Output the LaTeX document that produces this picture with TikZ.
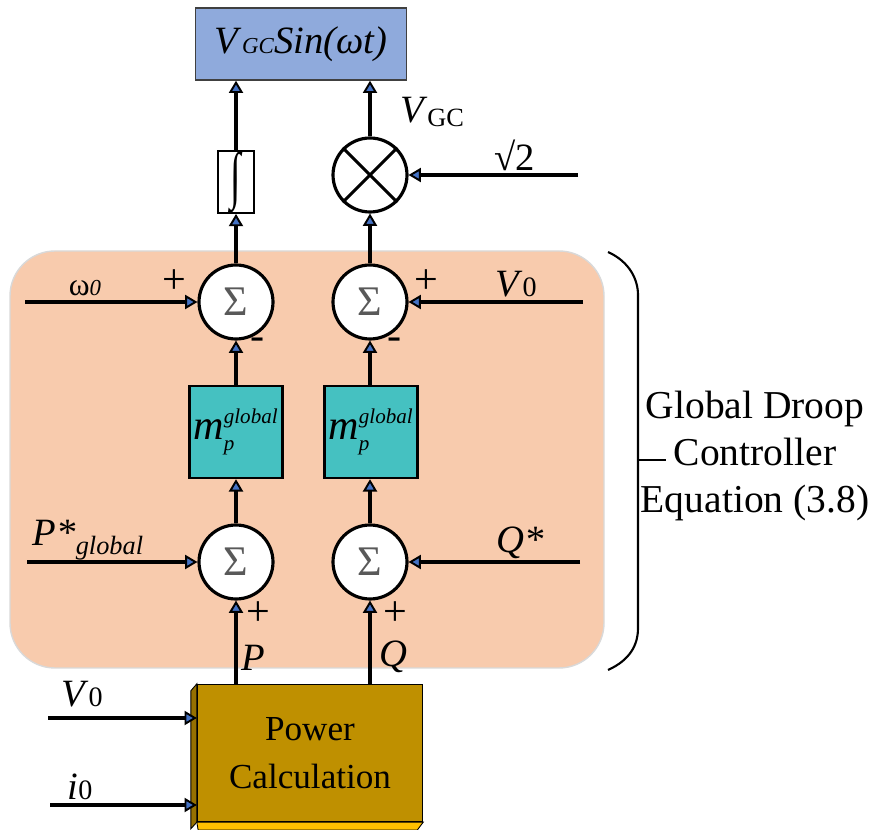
\documentclass[tikz,border=0pt]{standalone}
\usepackage{amsmath}
\usepackage{fontspec}
\setmainfont{Liberation Serif}
\usepackage{tikz}
\usetikzlibrary{arrows.meta,positioning}
\definecolor{regioncolor}{RGB}{248,203,173}
\definecolor{outcolor}{RGB}{143,170,220}
\definecolor{gaincolor}{RGB}{69,193,193}
\definecolor{powercolor}{RGB}{191,144,0}
\definecolor{powerside}{RGB}{150,112,0}
\definecolor{powerbottom}{RGB}{255,192,0}
\definecolor{tipcolor}{RGB}{68,114,196}
\newcommand{\bigsize}{\fontsize{22}{26}\selectfont}
\newcommand{\midsize}{\fontsize{24}{24}\selectfont}

\begin{document}
\begin{tikzpicture}[
        x=0.02cm, y=-0.02cm,
        sig/.style={-{Triangle[open, fill=tipcolor, length=7pt, width=8pt, line width=1.1pt]}, line width=1.8pt},
        sumnode/.style={circle, draw, line width=1.8pt, fill=white, minimum size=1.48cm, inner sep=0pt, text=black!65, font=\fontsize{24}{24}\selectfont},
        gainbox/.style={rectangle, draw, line width=1.4pt, fill=gaincolor, minimum width=1.86cm, minimum height=1.84cm, inner sep=0pt, font=\fontsize{24}{24}\selectfont},
        outbox/.style={rectangle, draw=black!75, line width=0.8pt, fill=outcolor, minimum width=4.22cm, minimum height=1.44cm, font=\bigsize},
        intbox/.style={rectangle, draw, line width=1pt, fill=white, minimum width=0.72cm, minimum height=1.2cm, inner sep=0pt, font=\fontsize{24}{24}\selectfont},
        powerbox/.style={rectangle, draw, line width=0.8pt, fill=powercolor, minimum width=4.5cm, minimum height=2.74cm, align=center, font=\fontsize{20}{27}\selectfont},
        lbl/.style={inner sep=0pt, font=\bigsize},
        sgn/.style={inner sep=0pt, font=\midsize}
    ]
        \useasboundingbox (0,0) rectangle (876,830);

        % droop controller region
        \fill[regioncolor, draw=black!15, line width=0.8pt, rounded corners=0.9cm] (10,251) rectangle (604,668);

        \node[outbox] (out) at (301,44) {\textit{V}{\fontsize{13}{13}\selectfont\textit{GC}}\textit{Sin(ωt)}};
        \node[intbox] (intg) at (236,182) {\scalebox{0.9}[1.5]{∫}};
        \node[sumnode] (mult) at (370,175) {};
        \draw[line width=1.8pt] (mult.45) -- (mult.225) (mult.135) -- (mult.315);

        \node[sumnode] (sumW) at (236,302) {Σ};
        \node[sumnode] (sumV) at (370,302) {Σ};
        \node[gainbox] (gainP) at (236,432) {$\textit{m}_{\scriptscriptstyle\textit{p}}^{\scriptscriptstyle\textit{global}}$};
        \node[gainbox] (gainQ) at (371,432) {$\textit{m}_{\scriptscriptstyle\textit{p}}^{\scriptscriptstyle\textit{global}}$};
        \node[sumnode] (sumP) at (236,562) {Σ};
        \node[sumnode] (sumQ) at (370,562) {Σ};

        \node[powerbox] (power) at (310,753) {Power\\Calculation};
        \fill[powerside, draw=black, line width=0.5pt] (power.north west) -- ++(-6,7) -- ++(0,138) -- (power.south west) -- cycle;
        \fill[powerbottom, draw=black, line width=0.5pt] (power.south west) -- (power.south east) -- ++(-6,8) -- ++(-219,0) -- cycle;

        % inputs
        \coordinate (wIn) at (25,302);
        \coordinate (vIn) at (583,302);
        \coordinate (sqIn) at (578,175);
        \coordinate (pIn) at (27,562);
        \coordinate (qIn) at (580,562);
        \coordinate (v0In) at (48,718);
        \coordinate (i0In) at (50,805);

        \draw[sig] (intg.north) -- (intg.north |- out.south);
        \draw[sig] (mult.north) -- (mult.north |- out.south);
        \draw[sig] (sumW) -- (intg);
        \draw[sig] (sumV) -- (mult);
        \draw[sig] (sqIn) -- (mult);
        \draw[sig] (wIn) -- (sumW);
        \draw[sig] (vIn) -- (sumV);
        \draw[sig] (gainP.north -| sumW) -- (sumW);
        \draw[sig] (gainQ.north -| sumV) -- (sumV);
        \draw[sig] (sumP) -- (gainP.south -| sumP);
        \draw[sig] (sumQ) -- (gainQ.south -| sumQ);
        \draw[sig] (pIn) -- (sumP);
        \draw[sig] (qIn) -- (sumQ);
        \draw[sig] (power.north -| sumP) -- (sumP);
        \draw[sig] (power.north -| sumQ) -- (sumQ);
        \draw[sig] (v0In) -- (v0In -| power.west);
        \draw[sig] (i0In) -- (i0In -| power.west);

        % labels
        \node[lbl] (vgcLbl) at (432,112) {\textit{V}\raisebox{-2pt}{\fontsize{15}{15}\selectfont GC}};
        \node[lbl] (sqLbl) at (515,155) {√2};
        \node[lbl, font=\fontsize{18}{20}\selectfont] (wLbl) at (85,288) {ω{\fontsize{13}{13}\selectfont\textit{0}}};
        \node[lbl] (vLbl) at (516,284) {\textit{V}{\fontsize{16}{16}\selectfont 0}};
        \node[lbl] (pStarLbl) at (88,540) {\textit{P*}\raisebox{-5pt}{\fontsize{15}{15}\selectfont\textit{global}}};
        \node[lbl] (qStarLbl) at (520,543) {\textit{Q*}};
        \node[lbl] (pLbl) at (253,658) {\textit{P}};
        \node[lbl] (qLbl) at (393,657) {\textit{Q}};
        \node[lbl] (v0Lbl) at (82,694) {\textit{V}{\fontsize{16}{16}\selectfont 0}};
        \node[lbl] (i0Lbl) at (80,787) {\textit{i}{\fontsize{16}{16}\selectfont 0}};

        \node[sgn] (sW1) at (174,282) {+};
        \node[sgn] (sW2) at (258,344) {-};
        \node[sgn] (sV1) at (426,282) {+};
        \node[sgn] (sV2) at (395,344) {-};
        \node[sgn] (sP1) at (258,614) {+};
        \node[sgn] (sQ1) at (395,614) {+};

        % brace and note
        \draw[line width=1.2pt] (608,252) .. controls (630,262) and (638,280) .. (638,295) -- (638,628) .. controls (638,645) and (630,660) .. (608,670);
        \coordinate (braceTip) at (638,460);
        \coordinate (noteTick) at (666,460);
        \node[align=center, inner sep=0pt, font=\fontsize{22.5}{26.7}\selectfont] (note) at (755,456) {Global Droop\\Controller\\Equation (3.8)};
        \draw[line width=1.2pt] (braceTip) -- (noteTick);
    \end{tikzpicture}
\end{document}
